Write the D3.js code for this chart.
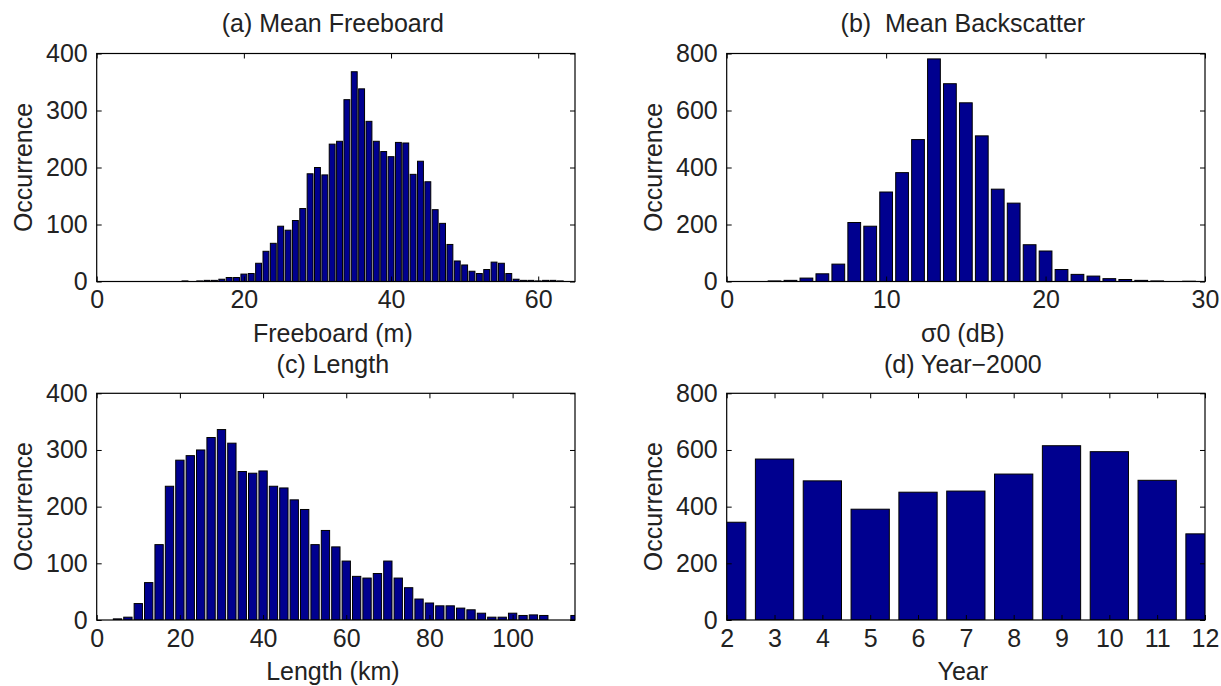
<!DOCTYPE html>
<html>
<head>
<meta charset="utf-8">
<script src="https://cdn.jsdelivr.net/npm/d3@7"></script>
<style>
  body { margin: 0; background: #fff; }
  text { font-family: "Liberation Sans", Arial, Helvetica, sans-serif; fill: #222; }
</style>
</head>
<body>
<svg id="svg1"></svg>
<script>
// (a) mean freeboard histogram, 1 m bins
const freeboardBins = [12, 13, 14, 15, 16, 17, 18, 19, 20, 21, 22, 23, 24, 25, 26, 27, 28, 29, 30, 31, 32, 33, 34, 35, 36, 37,
  38, 39, 40, 41, 42, 43, 44, 45, 46, 47, 48, 49, 50, 51, 52, 53, 54, 55, 56, 57, 58, 59, 60, 61, 62, 63];
const freeboardCounts = [1, 0, 1, 2, 2, 4, 7, 7, 13, 14, 32, 53, 67, 97, 90, 107, 128, 189, 200, 187, 241, 246, 319, 368, 338, 281,
  246, 228, 219, 244, 243, 188, 211, 175, 126, 102, 65, 36, 29, 18, 14, 21, 34, 32, 14, 4, 2, 2, 1, 2, 2, 1];

// (b) mean backscatter, 1 dB bins
const sigmaBins = [3, 4, 5, 6, 7, 8, 9, 10, 11, 12, 13, 14, 15, 16, 17, 18, 19, 20, 21, 22, 23, 24, 25, 26, 27, 28, 29];
const sigmaCounts = [2, 4, 12, 27, 61, 207, 194, 314, 382, 498, 781, 694, 627, 511, 324, 275, 129, 107, 42, 25, 19, 10, 7, 4, 2, 0, 1];

// (c) length, 2.5 km bins
const lengthBins = [5, 7.5, 10, 12.5, 15, 17.5, 20, 22.5, 25, 27.5, 30, 32.5, 35, 37.5, 40, 42.5, 45, 47.5, 50, 52.5, 55, 57.5,
  60, 62.5, 65, 67.5, 70, 72.5, 75, 77.5, 80, 82.5, 85, 87.5, 90, 92.5, 95, 97.5, 100, 102.5, 105, 107.5, 110, 112.5, 115];
const lengthCounts = [2, 5, 29, 66, 133, 236, 282, 290, 300, 322, 336, 312, 262, 259, 263, 236, 233, 212, 195, 133, 158, 129,
  104, 77, 74, 82, 104, 74, 57, 37, 30, 25, 25, 21, 18, 12, 5, 5, 12, 8, 9, 8, 0, 0, 8];

// (d) year - 2000
const years = [2, 3, 4, 5, 6, 7, 8, 9, 10, 11, 12];
const yearCounts = [345, 568, 491, 391, 451, 455, 515, 615, 594, 493, 304];

// tick labels
const freeboardTicks = [0, 20, 40, 60];
const sigmaTicks = [0, 10, 20, 30];
const lengthTicks = [0, 20, 40, 60, 80, 100];
const yearTicks = [2, 3, 4, 5, 6, 7, 8, 9, 10, 11, 12];
const countTicks400 = [0, 100, 200, 300, 400];
const countTicks800 = [0, 200, 400, 600, 800];

const width = 1221, height = 686;
const svg = d3.select("#svg1")
  .attr("width", width)
  .attr("height", height)
  .attr("viewBox", [0, 0, width, height]);

const panels = [
  {id: "a", bins: freeboardBins, counts: freeboardCounts, step: 1, xdom: [0, 65], ydom: [0, 400],
   xt: freeboardTicks, yt: countTicks400, x0: 96.7, x1: 575, y0: 53.5, y1: 281.5,
   title: "(a) Mean Freeboard", titleY: 32, xlab: "Freeboard (m)"},
  {id: "b", bins: sigmaBins, counts: sigmaCounts, step: 1, xdom: [0, 30], ydom: [0, 800],
   xt: sigmaTicks, yt: countTicks800, x0: 726.7, x1: 1205, y0: 53.5, y1: 281.5,
   title: "(b)  Mean Backscatter", titleY: 32, xlab: "σ0 (dB)"},
  {id: "c", bins: lengthBins, counts: lengthCounts, step: 2.5, xdom: [0, 115], ydom: [0, 400],
   xt: lengthTicks, yt: countTicks400, x0: 96.7, x1: 575, y0: 393.3, y1: 620,
   title: "(c) Length", titleY: 373, xlab: "Length (km)"},
  {id: "d", bins: years, counts: yearCounts, step: 1, xdom: [2, 12], ydom: [0, 800],
   xt: yearTicks, yt: countTicks800, x0: 726.7, x1: 1205, y0: 393.3, y1: 620,
   title: "(d) Year\u22122000", titleY: 373, xlab: "Year"}
];

const tickLen = 5;
const fontSize = 25;

panels.forEach(p => {
  const x = d3.scaleLinear(p.xdom, [p.x0, p.x1]);
  const y = d3.scaleLinear(p.ydom, [p.y1, p.y0]);
  const g = svg.append("g");

  // clip bars to the axes box
  g.append("clipPath").attr("id", "clip-" + p.id)
    .append("rect")
    .attr("x", p.x0).attr("y", p.y0)
    .attr("width", p.x1 - p.x0).attr("height", p.y1 - p.y0);

  const bw = p.step * 0.8;
  g.append("g")
    .attr("clip-path", `url(#clip-${p.id})`)
    .selectAll("rect")
    .data(p.bins.map((b, i) => ({b, c: p.counts[i]})))
    .join("rect")
    .attr("x", d => x(d.b - bw / 2))
    .attr("width", d => x(d.b + bw / 2) - x(d.b - bw / 2))
    .attr("y", d => y(d.c))
    .attr("height", d => y(0) - y(d.c))
    .attr("fill", "#00008f")
    .attr("stroke", "#000")
    .attr("stroke-width", 1);

  // ticks inside, mirrored on every side
  const xAxB = d3.axisBottom(x).tickValues(p.xt).tickSizeInner(-tickLen).tickSizeOuter(0).tickPadding(9);
  const xAxT = d3.axisTop(x).tickValues(p.xt).tickSizeInner(-tickLen).tickSizeOuter(0).tickFormat("");
  const yAxL = d3.axisLeft(y).tickValues(p.yt).tickSizeInner(-tickLen).tickSizeOuter(0).tickPadding(9);
  const yAxR = d3.axisRight(y).tickValues(p.yt).tickSizeInner(-tickLen).tickSizeOuter(0).tickFormat("");

  const axes = [
    g.append("g").attr("transform", `translate(0,${p.y1})`).call(xAxB),
    g.append("g").attr("transform", `translate(0,${p.y0})`).call(xAxT),
    g.append("g").attr("transform", `translate(${p.x0},0)`).call(yAxL),
    g.append("g").attr("transform", `translate(${p.x1},0)`).call(yAxR)
  ];
  axes.forEach(a => {
    a.select(".domain").remove();
    a.selectAll("line").attr("stroke", "#000").attr("stroke-width", 1);
    a.selectAll("text").style("font-size", fontSize + "px").attr("fill", "#222");
  });

  // box
  g.append("rect")
    .attr("x", p.x0).attr("y", p.y0)
    .attr("width", p.x1 - p.x0).attr("height", p.y1 - p.y0)
    .attr("fill", "none")
    .attr("stroke", "#000")
    .attr("stroke-width", 1.2);

  // title and labels
  const cx = (p.x0 + p.x1) / 2 - 3;
  g.append("text")
    .attr("x", cx).attr("y", p.titleY)
    .attr("text-anchor", "middle")
    .style("font-size", fontSize + "px")
    .style("white-space", "pre")
    .text(p.title);

  g.append("text")
    .attr("x", cx).attr("y", p.y1 + 60)
    .attr("text-anchor", "middle")
    .style("font-size", fontSize + "px")
    .text(p.xlab);

  g.append("text")
    .attr("transform", `translate(${p.x0 - 65},${(p.y0 + p.y1) / 2}) rotate(-90)`)
    .attr("text-anchor", "middle")
    .style("font-size", fontSize + "px")
    .text("Occurrence");
});
</script>
</body>
</html>
